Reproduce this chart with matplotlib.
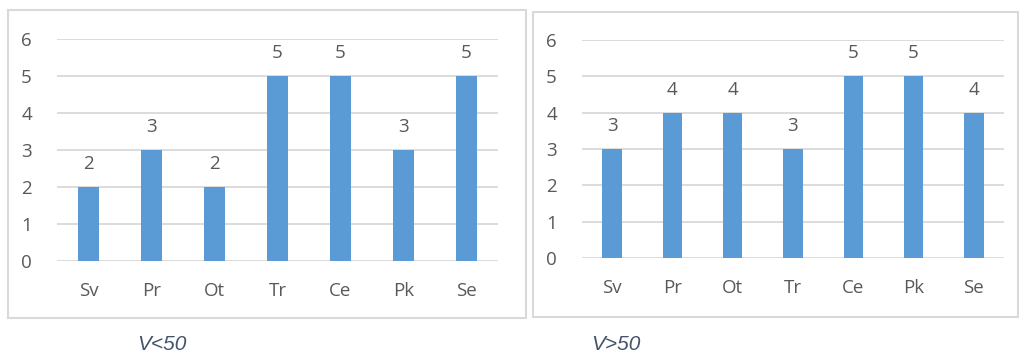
import matplotlib.pyplot as plt
from matplotlib.patches import Rectangle

dias = ['Sv', 'Pr', 'Ot', 'Tr', 'Ce', 'Pk', 'Se']
vrednosti_manj = [2, 3, 2, 5, 5, 3, 5]
vrednosti_vec = [3, 4, 4, 3, 5, 5, 4]
naslovi = ['V<50', 'V>50']

W, H = 1020, 353
plt.rcParams['font.family'] = ['Open Sans', 'DejaVu Sans']
siva = '#595959'
mreza = '#d9d9d9'
modra = '#5b9bd5'

fig = plt.figure(figsize=(W / 100, H / 100), dpi=100)


def px(x0, y0, x1, y1):
    # pixel box (top-left origin) -> figure fraction
    return [x0 / W, 1 - y1 / H, (x1 - x0) / W, (y1 - y0) / H]


# okvirja okrog grafov
for (x0, y0, x1, y1) in [(8, 10, 526, 318), (533, 12, 1018, 317)]:
    fig.patches.append(Rectangle((x0 / W, 1 - y1 / H), (x1 - x0) / W, (y1 - y0) / H,
                                 transform=fig.transFigure, fill=False,
                                 edgecolor='#d9d9d9', linewidth=1.5))

osi = [px(57, 39, 498, 261), px(582, 40, 1004, 258)]
podatki = [vrednosti_manj, vrednosti_vec]
naslov_x = [162, 616]

for box, vals, nx, nsl in zip(osi, podatki, naslov_x, naslovi):
    ax = fig.add_axes(box)
    bars = ax.bar(dias, vals, width=0.32, color=modra, zorder=3)
    ax.bar_label(bars, padding=10, fontsize=13.5, color=siva)
    ax.set_ylim(0, 6)
    ax.set_xlim(-0.5, len(dias) - 0.5)
    ax.set_yticks(range(7))
    ax.grid(axis='y', color=mreza, linewidth=1.3, zorder=0)
    for s in ax.spines.values():
        s.set_visible(False)
    ax.tick_params(length=0, labelsize=13.5, colors=siva)
    ax.tick_params(axis='y', pad=18)
    ax.tick_params(axis='x', pad=15)
    fig.text(nx / W, 1 - 345 / H, nsl, ha='center', va='center',
             fontsize=15, style='italic', color='#44546a',
             family=['Liberation Sans', 'DejaVu Sans'])

plt.savefig('out.png', dpi=100)
